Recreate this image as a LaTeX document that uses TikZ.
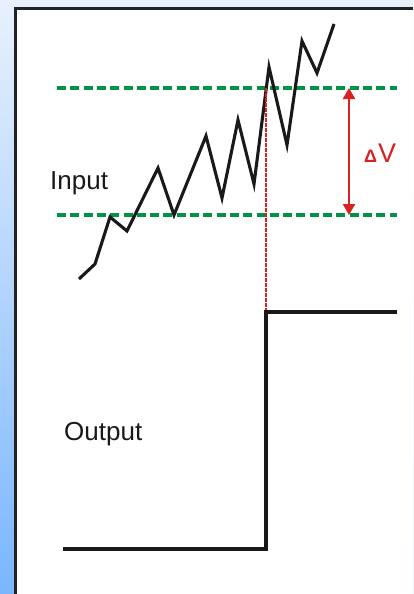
\documentclass[tikz,border=0pt]{standalone}
\usepackage{fontspec}
\setmainfont{Liberation Sans}
\usetikzlibrary{arrows.meta}
\definecolor{bgtop}{RGB}{232,241,252}
\definecolor{bgmid}{RGB}{190,217,250}
\definecolor{bgbot}{RGB}{122,182,255}
\definecolor{lvlgreen}{RGB}{0,146,69}
\definecolor{dvred}{RGB}{214,34,34}
\definecolor{frame}{RGB}{35,35,35}
\tikzset{
  level/.style={lvlgreen, line width=4.5pt, dash pattern=on 9pt off 4.3pt},
  signal/.style={black!90, line width=3.1pt, line join=miter},
  marker/.style={dvred, line width=2.6pt, dash pattern=on 3.5pt off 1.5pt},
  span/.style={dvred, line width=2.4pt, {Triangle[length=11pt,width=12pt]}-{Triangle[length=11pt,width=12pt]}},
  label/.style={inner sep=0pt, anchor=base west, font=\fontsize{26}{30}\selectfont, text=black!90}
}
\begin{document}
\begin{tikzpicture}[x=1pt,y=-1pt]
\useasboundingbox (0,0) rectangle (413,594);
\shade[top color=bgtop, middle color=bgmid, bottom color=bgbot] (0,0) rectangle (413,594);
\fill[white] (15,9) rectangle (413,594);
\draw[frame, line width=3pt] (413,9) -- (15,9) -- (15,594);

% levels
\coordinate (hiL) at (57,88);  \coordinate (hiR) at (397,88);
\coordinate (loL) at (57,215); \coordinate (loR) at (397,215);
\draw[level] (hiL) -- (hiR);
\draw[level] (loL) -- (loR);

% input signal
\coordinate (s0) at (79,279);
\coordinate (s1) at (95,264);
\coordinate (s2) at (110,217);
\coordinate (s3) at (127,231);
\coordinate (s4) at (158,168);
\coordinate (s5) at (174,215);
\coordinate (s6) at (206,136);
\coordinate (s7) at (222,198);
\coordinate (s8) at (238,120);
\coordinate (s9) at (254,184);
\coordinate (s10) at (269,67);
\coordinate (s11) at (287,145);
\coordinate (s12) at (302,41);
\coordinate (s13) at (317,73);
\coordinate (s14) at (334,24);
\draw[signal] (s0) -- (s1) -- (s2) -- (s3) -- (s4) -- (s5) -- (s6) -- (s7) -- (s8) -- (s9) -- (s10) -- (s11) -- (s12) -- (s13) -- (s14);

% trigger marker
\coordinate (mTop) at (266,88);
\coordinate (mBot) at (266,312);
\draw[marker] (mTop) -- (mBot);

% output step
\coordinate (o0) at (63,549);
\coordinate (o1) at (266,549);
\coordinate (o2) at (266,312);
\coordinate (o3) at (397,312);
\draw[signal, line width=3.2pt] (o0) -- (o1) -- (o2) -- (o3);

% delta V arrow
\coordinate (aTop) at (349,88);
\coordinate (aBot) at (349,215);
\draw[span] (aTop) -- (aBot);

\node[label] (inp) at (50,189) {Input};
\node[label] (outp) at (64,440) {Output};
\node[label, text=dvred] (dv) at (364,162) {{\fontsize{18}{18}\selectfont\bfseries Δ}\kern1pt{\fontsize{27}{30}\selectfont V}};
\end{tikzpicture}
\end{document}
